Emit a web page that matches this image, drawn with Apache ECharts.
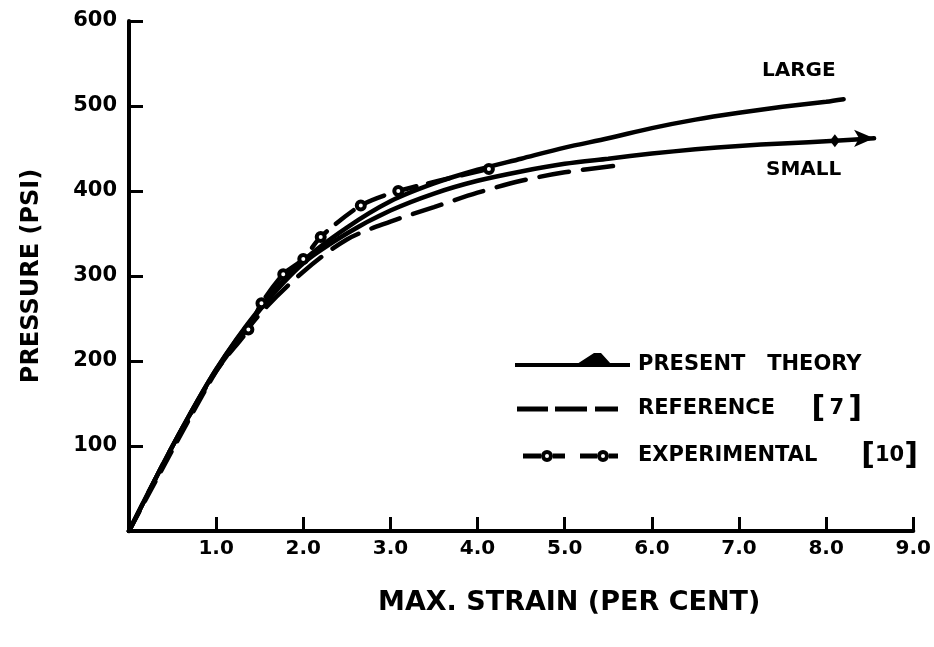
<!DOCTYPE html>
<html>
<head>
<meta charset="utf-8">
<script src="https://cdn.jsdelivr.net/npm/echarts@6/dist/echarts.min.js"></script>
<style>
  html, body { margin: 0; padding: 0; background: #fff; }
  #chart { width: 934px; height: 647px; }
</style>
</head>
<body>
<div id="chart"></div>
<script>
const FONT = '"DejaVu Sans", "Liberation Sans", sans-serif';
const INK = '#000';

// Present theory, large deflection
const largeStrain   = [0, 0.5, 1.0, 1.5, 2.0, 2.5, 3.0, 3.5, 4.0, 4.5, 5.0, 5.5, 6.0, 6.5, 7.0, 7.5, 8.0, 8.2];
const largePressure = [0, 100, 190, 262, 318, 357, 388, 409, 425, 438, 451, 462, 474, 484, 492, 499, 505, 508];

// Present theory, small deflection (ends in an arrow)
const smallStrain   = [0, 0.5, 1.0, 1.5, 2.0, 2.5, 3.0, 3.5, 4.0, 4.5, 5.0, 5.5, 6.0, 6.5, 7.0, 7.5, 8.1, 8.55];
const smallPressure = [0, 100, 190, 260, 315, 350, 377, 397, 412, 423, 432, 438, 444, 449, 453, 456, 459, 462];

// Reference [7]
const refStrain   = [0, 0.5, 1.0, 1.5, 2.0, 2.5, 3.0, 3.5, 4.0, 4.5, 5.0, 5.6];
const refPressure = [0, 100, 188, 255, 305, 343, 364, 381, 398, 412, 422, 430];

// Experimental [10]
const expStrain   = [0, 1.0, 1.37, 1.52, 1.77, 2.0, 2.2, 2.66, 3.09, 4.13];
const expPressure = [0, 188, 237, 268, 302, 320, 346, 383, 400, 426];

// Axis ticks
const strainTicks   = [0, 1, 2, 3, 4, 5, 6, 7, 8, 9];
const pressureTicks = [0, 100, 200, 300, 400, 500, 600];

const zip = (xs, ys) => xs.map((x, i) => [x, ys[i]]);

const largeData = zip(largeStrain, largePressure);
const smallData = zip(smallStrain, smallPressure).map((p, i, arr) => {
  if (i === arr.length - 1) {
    return { value: p, symbol: 'arrow', symbolSize: [13, 20], symbolRotate: -90 };
  }
  if (i === arr.length - 2) {
    return { value: p, symbol: 'diamond', symbolSize: [10, 13] };
  }
  return p;
});
const refData = zip(refStrain, refPressure);
const expData = zip(expStrain, expPressure).map((p) =>
  p[0] < 1.2 ? { value: p, symbol: 'none' } : p
);

// Legend glyphs (118 x 24 boxes, line centred at y = 12)
const iconTheory = 'path://M0 10L115 10L115 14L0 14Z M62 11L79 0L86 0L96 11Z M118 24';
const iconRef = 'path://M2 9.5L33 9.5L33 14.5L2 14.5Z M40 9.5L72 9.5L72 14.5L40 14.5Z M80 9.5L103 9.5L103 14.5L80 14.5Z M0 0 M118 24';
const iconExp = 'path://M8 9.5L26 9.5L26 14.5L8 14.5Z M38 9.5L50 9.5L50 14.5L38 14.5Z ' +
  'M38 12A6 6 0 1 0 26 12A6 6 0 1 0 38 12Z M34 12A2 2 0 1 1 30 12A2 2 0 1 1 34 12Z ' +
  'M65 9.5L82 9.5L82 14.5L65 14.5Z M94 9.5L103 9.5L103 14.5L94 14.5Z ' +
  'M94 12A6 6 0 1 0 82 12A6 6 0 1 0 94 12Z M90 12A2 2 0 1 1 86 12A2 2 0 1 1 90 12Z M0 0 M118 24';

const legendIconStyle = { color: INK, borderWidth: 0 };

const chart = echarts.init(document.getElementById('chart'), null, { renderer: 'canvas' });

const option = {
  animation: false,
  backgroundColor: '#fff',
  grid: { left: 129, right: 20, top: 21, bottom: 116 },
  xAxis: {
    type: 'value',
    min: strainTicks[0],
    max: strainTicks[strainTicks.length - 1],
    interval: 1,
    name: 'MAX. STRAIN (PER CENT)',
    nameLocation: 'middle',
    nameGap: 58,
    nameTextStyle: {
      fontFamily: FONT, fontWeight: 'bold', fontSize: 27, color: INK,
      padding: [0, 0, 0, 96]
    },
    axisLine: { show: true, onZero: false, lineStyle: { color: INK, width: 4 } },
    axisTick: { show: true, inside: true, length: 14, lineStyle: { color: INK, width: 3 } },
    axisLabel: {
      margin: 8,
      fontFamily: FONT, fontWeight: 'bold', fontSize: 20, color: INK,
      formatter: (v) => (v === 0 ? '' : v.toFixed(1))
    },
    splitLine: { show: false }
  },
  yAxis: {
    type: 'value',
    min: pressureTicks[0],
    max: pressureTicks[pressureTicks.length - 1],
    interval: 100,
    name: 'PRESSURE (PSI)',
    nameLocation: 'middle',
    nameGap: 85,
    nameRotate: 90,
    nameTextStyle: { fontFamily: FONT, fontWeight: 'bold', fontSize: 24, color: INK },
    axisLine: { show: true, onZero: false, lineStyle: { color: INK, width: 4 } },
    axisTick: { show: true, inside: true, length: 14, lineStyle: { color: INK, width: 3 } },
    axisLabel: {
      margin: 12,
      fontFamily: FONT, fontWeight: 'bold', fontSize: 21, color: INK,
      formatter: (v) => (v === 0 ? '' : String(v))
    },
    splitLine: { show: false }
  },
  legend: {
    orient: 'vertical',
    left: 515,
    top: 353,
    padding: 0,
    itemWidth: 118,
    itemHeight: 24,
    itemGap: 17,
    selectedMode: false,
    data: [
      { name: 'PRESENT THEORY', icon: iconTheory, itemStyle: legendIconStyle },
      { name: 'REFERENCE [7]', icon: iconRef, itemStyle: legendIconStyle },
      { name: 'EXPERIMENTAL [10]', icon: iconExp, itemStyle: legendIconStyle }
    ],
    formatter: (n) => {
      if (n === 'REFERENCE [7]') return 'REFERENCE     {br|[}\u20097\u2009{br|]}';
      if (n === 'EXPERIMENTAL [10]') return 'EXPERIMENTAL      {br|[}10{br|]}';
      return 'PRESENT   THEORY';
    },
    textStyle: {
      fontFamily: FONT, fontWeight: 'bold', fontSize: 21, color: INK,
      lineHeight: 24, height: 24,
      rich: {
        br: { fontFamily: FONT, fontWeight: 'bold', fontSize: 30, lineHeight: 24, height: 24, color: INK }
      }
    }
  },
  graphic: [
    {
      type: 'text', left: 762, top: 61,
      style: { text: 'LARGE', fontFamily: FONT, fontWeight: 'bold', fontSize: 20, fill: INK }
    },
    {
      type: 'text', left: 766, top: 160,
      style: { text: 'SMALL', fontFamily: FONT, fontWeight: 'bold', fontSize: 20, fill: INK }
    }
  ],
  series: [
    {
      name: 'PRESENT THEORY',
      type: 'line',
      data: largeData,
      smooth: 0.3,
      symbol: 'none',
      color: INK,
      lineStyle: { color: INK, width: 4.5, cap: 'round' },
      emphasis: { disabled: true },
      z: 3
    },
    {
      name: 'PRESENT THEORY',
      type: 'line',
      data: smallData,
      smooth: 0.3,
      symbol: 'none',
      showSymbol: true,
      color: INK,
      itemStyle: { color: INK },
      lineStyle: { color: INK, width: 4.5, cap: 'round' },
      emphasis: { disabled: true },
      z: 3
    },
    {
      name: 'REFERENCE [7]',
      type: 'line',
      data: refData,
      smooth: 0.3,
      symbol: 'none',
      color: INK,
      lineStyle: { color: INK, width: 4.5, type: [30, 14], cap: 'round' },
      emphasis: { disabled: true },
      z: 2
    },
    {
      name: 'EXPERIMENTAL [10]',
      type: 'line',
      data: expData,
      smooth: 0.25,
      symbol: 'circle',
      symbolSize: 8,
      showSymbol: true,
      showAllSymbol: true,
      color: INK,
      itemStyle: { color: '#fff', borderColor: INK, borderWidth: 4 },
      lineStyle: { color: INK, width: 4.5, type: [22, 12], cap: 'round' },
      emphasis: { disabled: true },
      z: 4
    }
  ]
};

chart.setOption(option);
</script>
</body>
</html>
